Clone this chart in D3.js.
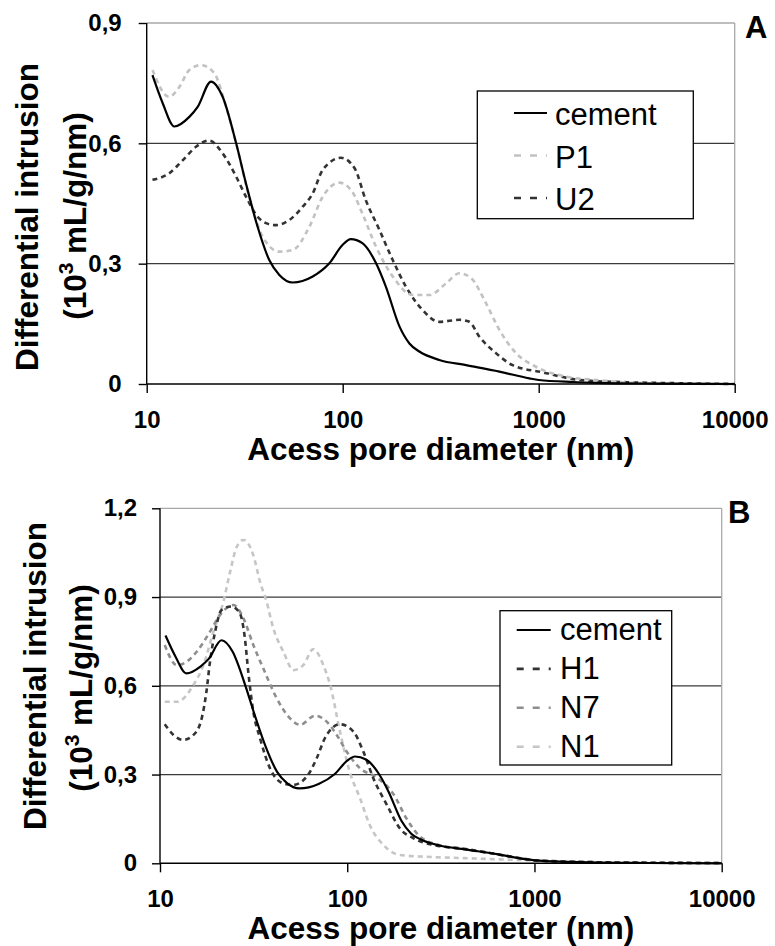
<!DOCTYPE html>
<html>
<head>
<meta charset="utf-8">
<script src="https://cdn.jsdelivr.net/npm/d3@7"></script>
<style>
  html, body { margin: 0; padding: 0; background: #fff; }
  svg { display: block; }
  text { font-family: "Liberation Sans", Arial, sans-serif; }
</style>
</head>
<body>
<svg id="chart" width="775" height="946"></svg>
<script>
// ---------------- DATA ----------------
// [access pore diameter (nm), differential intrusion (10^-3 mL/g/nm)]
const cement = [[10.7,0.770],[12.07,0.70],[13.83,0.642],[16.5,0.666],[18.2,0.691],[21.3,0.754],[24.4,0.716],[28.6,0.600],[32.1,0.500],[36.8,0.392],[42.2,0.309],[47.5,0.272],[55.6,0.253],[70.3,0.268],[85.5,0.301],[100,0.347],[110,0.361],[126,0.351],[148,0.301],[166,0.243],[195,0.143],[219,0.101],[246,0.081],[311,0.060],[426,0.047],[630,0.031],[896,0.014],[1000,0.010],[1500,0.005],[2000,0.003],[4000,0.001],[10000,0]];
const P1 = [[10.7,0.783],[13.0,0.716],[14.7,0.741],[16.5,0.783],[18.9,0.795],[22.1,0.775],[25.4,0.691],[28.6,0.600],[33.3,0.467],[39.1,0.367],[47.5,0.330],[55.6,0.334],[67.6,0.392],[79.1,0.467],[96.1,0.502],[112,0.479],[126,0.425],[148,0.342],[180,0.268],[228,0.222],[277,0.222],[337,0.251],[394,0.276],[452,0.264],[539,0.201],[630,0.135],[766,0.077],[968,0.043],[1390,0.018],[1977,0.010],[3000,0.003],[5000,0.001],[10000,0]];
const U2 = [[10.7,0.509],[13.0,0.525],[15.3,0.558],[17.9,0.592],[20.8,0.607],[24.4,0.575],[28.6,0.517],[32.1,0.467],[36.8,0.417],[40.6,0.401],[45.7,0.396],[53.5,0.409],[62.5,0.442],[70.3,0.475],[79.1,0.534],[98,0.564],[115,0.538],[131,0.459],[154,0.384],[180,0.309],[210,0.243],[256,0.184],[311,0.155],[394,0.160],[443,0.155],[498,0.118],[605,0.077],[736,0.047],[1050,0.029],[1626,0.010],[3000,0.004],[5000,0.002],[10000,0]];
const H1 = [[10.6,0.470],[11.8,0.434],[13.3,0.417],[15.1,0.434],[16.7,0.490],[17.7,0.580],[18.5,0.682],[19.7,0.783],[21.3,0.856],[24.1,0.868],[26.7,0.845],[28.4,0.761],[29.6,0.648],[31.5,0.513],[34.2,0.423],[38.7,0.321],[45.6,0.270],[51.5,0.265],[60.8,0.293],[68.7,0.355],[76,0.423],[91.5,0.470],[108,0.445],[122,0.377],[138,0.287],[163,0.197],[191,0.118],[225,0.085],[288,0.062],[400,0.051],[630,0.031],[900,0.014],[1000,0.010],[2000,0.004],[4000,0.002],[10000,0.001]];
const N7 = [[10.6,0.738],[12.3,0.670],[13.9,0.682],[15.7,0.715],[18.5,0.783],[20.9,0.839],[24.7,0.873],[27.9,0.828],[31.5,0.738],[35.6,0.659],[42,0.558],[49.5,0.490],[56,0.468],[67.3,0.499],[77.6,0.479],[87.9,0.434],[99.4,0.377],[117,0.321],[144,0.290],[176,0.235],[208,0.150],[245,0.090],[326,0.058],[450,0.045],[630,0.030],[900,0.014],[1000,0.010],[2000,0.004],[4000,0.002],[10000,0.001]];
const N1 = [[10.6,0.546],[12.3,0.546],[15.1,0.603],[17.05,0.670],[19.3,0.783],[21.8,0.884],[23.7,0.986],[25.7,1.070],[27.9,1.093],[31.5,1.042],[34.2,0.952],[37.1,0.884],[40.3,0.794],[45.6,0.715],[51.6,0.653],[58.3,0.670],[65.9,0.724],[74.5,0.670],[81,0.603],[91.5,0.445],[103,0.310],[117,0.220],[132,0.129],[156,0.062],[191,0.028],[265,0.022],[400,0.018],[600,0.014],[1000,0.010],[2000,0.004],[4000,0.002],[10000,0.001]];

const xTicks = [10, 100, 1000, 10000];
const yTicksA = [0, 0.3, 0.6, 0.9];
const yTicksB = [0, 0.3, 0.6, 0.9, 1.2];
const legendA = ["cement", "P1", "U2"];
const legendB = ["cement", "H1", "N7", "N1"];
const xTitle = "Acess pore diameter (nm)";
const yTitle1 = "Differential intrusion";

// ---------------- DRAW ----------------
const svg = d3.select("#chart");
const fmt = v => v === 0 ? "0" : d3.format(".1f")(v).replace(".", ",");

const styles = {
  cement: {color: "#000000", dash: null, width: 2.2},
  P1: {color: "#c2c2c2", dash: "5,4", width: 2.6},
  U2: {color: "#333333", dash: "5,4", width: 2.6},
  H1: {color: "#333333", dash: "5,4", width: 2.6},
  N7: {color: "#8e8e8e", dash: "5,4", width: 2.6},
  N1: {color: "#c6c6c6", dash: "5,4", width: 2.6}
};
const seriesData = {cement, P1, U2, H1, N7, N1};

function panel(cfg) {
  const x = d3.scaleLog().domain([10, 10000]).range([cfg.x0, cfg.x1]);
  const y = d3.scaleLinear().domain([0, cfg.ymax]).range([cfg.y0, cfg.y1]);
  const g = svg.append("g");

  // gridlines
  g.selectAll(".grid").data(cfg.yTicks.filter(v => v > 0 && v < cfg.ymax)).enter()
    .append("line").attr("x1", cfg.x0).attr("x2", cfg.x1)
    .attr("y1", d => y(d)).attr("y2", d => y(d))
    .attr("stroke", "#3a3a3a").attr("stroke-width", 1.3);
  // top and right border
  g.append("line").attr("x1", cfg.x0).attr("x2", cfg.x1).attr("y1", cfg.y1).attr("y2", cfg.y1)
    .attr("stroke", "#a8a8a8").attr("stroke-width", 1.3);
  g.append("line").attr("x1", cfg.x1).attr("x2", cfg.x1).attr("y1", cfg.y1).attr("y2", cfg.y0)
    .attr("stroke", "#a8a8a8").attr("stroke-width", 1.3);

  // series
  const line = d3.line().x(d => x(d[0])).y(d => y(d[1])).curve(d3.curveMonotoneX);
  cfg.series.slice().reverse().forEach(name => {
    const s = styles[name];
    g.append("path").datum(seriesData[name]).attr("d", line)
      .attr("fill", "none").attr("stroke", s.color).attr("stroke-width", s.width)
      .attr("stroke-dasharray", s.dash).attr("stroke-linejoin", "round");
  });

  // axes
  const yAxis = d3.axisLeft(y).tickValues(cfg.yTicks).tickSize(8).tickFormat(fmt).tickPadding(cfg.yPad);
  const ya = g.append("g").attr("transform", `translate(${cfg.x0},0)`).call(yAxis);
  const xAxis = d3.axisBottom(x).tickValues(xTicks).tickSize(9).tickFormat(d3.format("d")).tickPadding(18);
  const xa = g.append("g").attr("transform", `translate(0,${cfg.y0})`).call(xAxis);
  [ya, xa].forEach(a => {
    a.select(".domain").attr("stroke", "#000").attr("stroke-width", 1.4);
    a.selectAll(".tick line").attr("stroke", "#000").attr("stroke-width", 1.4);
    a.selectAll(".tick text").attr("fill", "#000").attr("font-size", 24).attr("font-weight", "bold")
      .attr("font-family", "Liberation Sans, Arial, sans-serif");
  });
  ya.select(".domain").attr("d", `M0,${cfg.y0}V${cfg.y1}`);
  xa.select(".domain").attr("d", `M${cfg.x0},0H${cfg.x1}`);

  // x title
  g.append("text").attr("x", (cfg.x0 + cfg.x1) / 2).attr("y", cfg.xTitleY)
    .attr("text-anchor", "middle").attr("font-size", 31.5).attr("font-weight", "bold").text(xTitle);

  // y titles
  g.append("text").attr("transform", `translate(${cfg.yT1x},${cfg.yTc}) rotate(-90)`)
    .attr("text-anchor", "middle").attr("font-size", 31.5).attr("font-weight", "bold").text(yTitle1);
  const t2 = g.append("text").attr("transform", `translate(${cfg.yT2x},${cfg.yTc2}) rotate(-90)`)
    .attr("text-anchor", "middle").attr("font-size", 31.5).attr("font-weight", "bold");
  t2.append("tspan").text("(10");
  t2.append("tspan").attr("font-size", 21).attr("dy", -13).text("3");
  t2.append("tspan").attr("dy", 13).text(" mL/g/nm)");

  // panel label
  g.append("text").attr("x", cfg.labX).attr("y", cfg.labY).attr("font-size", 31)
    .attr("font-weight", "bold").text(cfg.label);

  // legend
  const L = cfg.legend;
  g.append("rect").attr("x", L.x).attr("y", L.y).attr("width", L.w).attr("height", L.h)
    .attr("fill", "#fff").attr("stroke", "#000").attr("stroke-width", 1.3);
  cfg.series.forEach((name, i) => {
    const s = styles[name];
    const by = L.b0 + i * L.step;
    g.append("line").attr("x1", L.lx0).attr("x2", L.lx1).attr("y1", by - L.off).attr("y2", by - L.off)
      .attr("stroke", s.color).attr("stroke-width", name === "cement" ? 2.2 : 2.6)
      .attr("stroke-dasharray", name === "cement" ? null : "7,9");
    g.append("text").attr("x", L.tx).attr("y", by).attr("font-size", 31).text(cfg.legendLabels[i]);
  });
}

panel({
  x0: 146.7, x1: 734.7, y0: 384, y1: 23, ymax: 0.9, yTicks: yTicksA, yPad: 17,
  series: ["cement", "P1", "U2"], legendLabels: legendA,
  xTitleY: 460, yT1x: 38, yTc: 217, yT2x: 86, yTc2: 216,
  label: "A", labX: 745, labY: 38,
  legend: {x: 477.3, y: 91, w: 216, h: 127.7, b0: 125, step: 42.5, off: 12, lx0: 514, lx1: 547, tx: 555}
});
panel({
  x0: 160, x1: 721.7, y0: 863.3, y1: 508.3, ymax: 1.2, yTicks: yTicksB, yPad: 15,
  series: ["cement", "H1", "N7", "N1"], legendLabels: legendB,
  xTitleY: 939, yT1x: 46, yTc: 676, yT2x: 92, yTc2: 688,
  label: "B", labX: 728, labY: 523,
  legend: {x: 500, y: 610.7, w: 171.7, h: 154.3, b0: 640, step: 38.9, off: 10, lx0: 516.7, lx1: 550.7, tx: 560}
});
</script>
</body>
</html>
